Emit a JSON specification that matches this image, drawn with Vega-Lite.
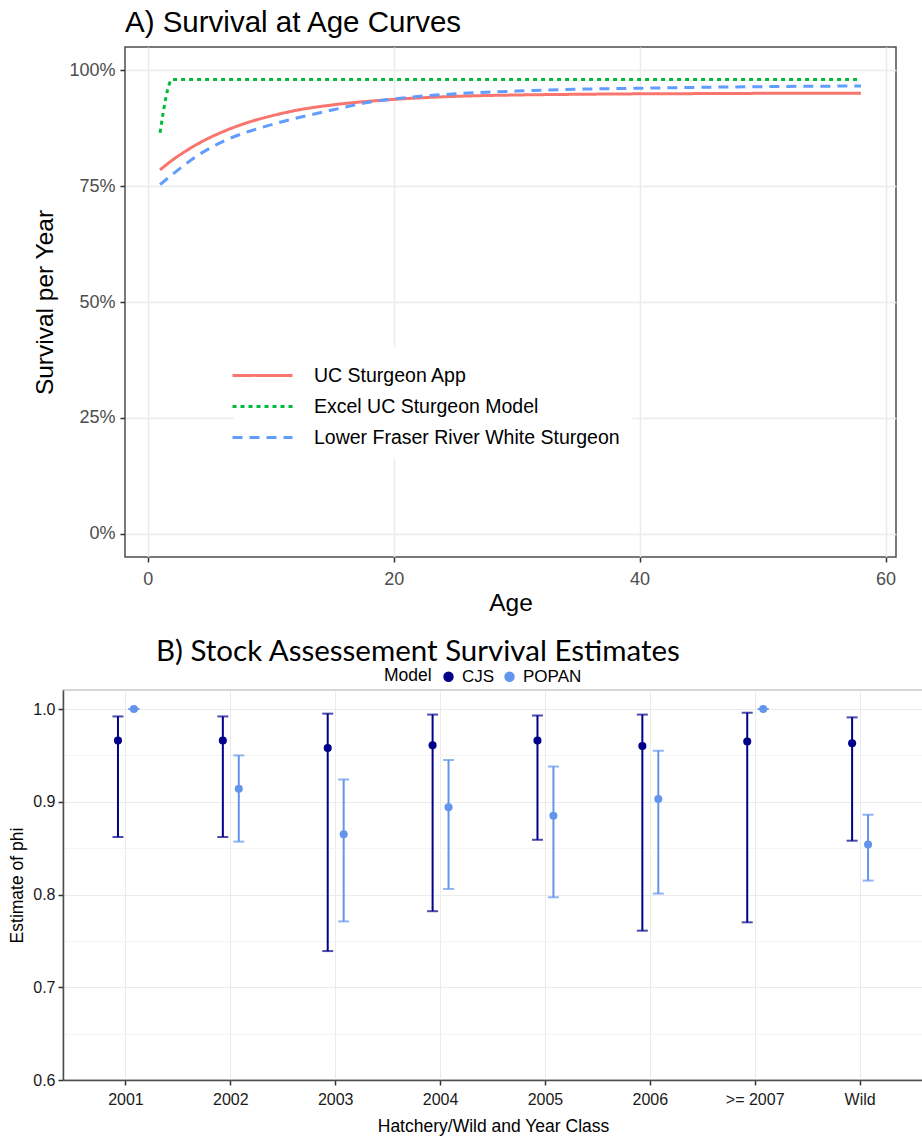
{
  "$schema": "https://vega.github.io/schema/vega-lite/v6.json",
  "background": "white",
  "padding": {"left": 7, "top": 6, "right": 0, "bottom": 0},
  "config": {"font": "Liberation Sans"},
  "spacing": 19,
  "columns": 1,
  "align": "none",
  "resolve": {
    "scale": {"color": "independent", "strokeDash": "independent", "x": "independent", "y": "independent"},
    "legend": {"color": "independent", "strokeDash": "independent"}
  },
  "concat": [
    {
      "spacing": 0,
      "resolve": {
        "scale": {"color": "independent", "strokeDash": "independent", "x": "independent", "y": "independent"},
        "legend": {"color": "independent", "strokeDash": "independent"}
      },
      "hconcat": [
        {
          "width": 25,
          "height": 10,
          "view": {"stroke": null},
          "data": {"values": []},
          "mark": "point"
        },
        {
          "width": 771,
          "height": 510,
          "view": {"stroke": "#4d4d4d", "strokeWidth": 1.5},
          "title": {"text": "A) Survival at Age Curves", "anchor": "start", "frame": "group", "fontSize": 29.5, "fontWeight": "normal", "color": "black", "offset": 9, "font": "Liberation Sans"},
          "data": {
            "values": [
              {"model": "UC Sturgeon App", "age": 1, "survival": 0.785},
              {"model": "UC Sturgeon App", "age": 2, "survival": 0.806},
              {"model": "UC Sturgeon App", "age": 3, "survival": 0.824},
              {"model": "UC Sturgeon App", "age": 4, "survival": 0.840},
              {"model": "UC Sturgeon App", "age": 5, "survival": 0.854},
              {"model": "UC Sturgeon App", "age": 6, "survival": 0.866},
              {"model": "UC Sturgeon App", "age": 8, "survival": 0.886},
              {"model": "UC Sturgeon App", "age": 10, "survival": 0.901},
              {"model": "UC Sturgeon App", "age": 12, "survival": 0.913},
              {"model": "UC Sturgeon App", "age": 15, "survival": 0.925},
              {"model": "UC Sturgeon App", "age": 18, "survival": 0.933},
              {"model": "UC Sturgeon App", "age": 20, "survival": 0.937},
              {"model": "UC Sturgeon App", "age": 25, "survival": 0.9435},
              {"model": "UC Sturgeon App", "age": 30, "survival": 0.9465},
              {"model": "UC Sturgeon App", "age": 35, "survival": 0.948},
              {"model": "UC Sturgeon App", "age": 40, "survival": 0.949},
              {"model": "UC Sturgeon App", "age": 45, "survival": 0.9495},
              {"model": "UC Sturgeon App", "age": 50, "survival": 0.950},
              {"model": "UC Sturgeon App", "age": 58, "survival": 0.950},
              {"model": "Excel UC Sturgeon Model", "age": 1, "survival": 0.865},
              {"model": "Excel UC Sturgeon Model", "age": 2, "survival": 0.980},
              {"model": "Excel UC Sturgeon Model", "age": 58, "survival": 0.980},
              {"model": "Lower Fraser River White Sturgeon", "age": 1, "survival": 0.753},
              {"model": "Lower Fraser River White Sturgeon", "age": 2, "survival": 0.775},
              {"model": "Lower Fraser River White Sturgeon", "age": 3, "survival": 0.796},
              {"model": "Lower Fraser River White Sturgeon", "age": 4, "survival": 0.815},
              {"model": "Lower Fraser River White Sturgeon", "age": 5, "survival": 0.831},
              {"model": "Lower Fraser River White Sturgeon", "age": 6, "survival": 0.845},
              {"model": "Lower Fraser River White Sturgeon", "age": 8, "survival": 0.866},
              {"model": "Lower Fraser River White Sturgeon", "age": 10, "survival": 0.882},
              {"model": "Lower Fraser River White Sturgeon", "age": 12, "survival": 0.896},
              {"model": "Lower Fraser River White Sturgeon", "age": 15, "survival": 0.914},
              {"model": "Lower Fraser River White Sturgeon", "age": 18, "survival": 0.931},
              {"model": "Lower Fraser River White Sturgeon", "age": 20, "survival": 0.938},
              {"model": "Lower Fraser River White Sturgeon", "age": 25, "survival": 0.949},
              {"model": "Lower Fraser River White Sturgeon", "age": 30, "survival": 0.955},
              {"model": "Lower Fraser River White Sturgeon", "age": 35, "survival": 0.959},
              {"model": "Lower Fraser River White Sturgeon", "age": 40, "survival": 0.961},
              {"model": "Lower Fraser River White Sturgeon", "age": 45, "survival": 0.963},
              {"model": "Lower Fraser River White Sturgeon", "age": 50, "survival": 0.9645},
              {"model": "Lower Fraser River White Sturgeon", "age": 58, "survival": 0.966}
            ]
          },
          "mark": {"type": "line", "strokeWidth": 3, "interpolate": "monotone"},
          "encoding": {
            "x": {
              "field": "age", "type": "quantitative",
              "scale": {"domain": [-1.85, 60.85], "nice": false, "zero": false},
              "axis": {"title": "Age", "values": [0, 20, 40, 60], "grid": true, "gridColor": "#EBEBEB", "gridWidth": 1.5, "domain": false, "tickColor": "#333333", "tickSize": 5, "tickWidth": 1.5, "labelFontSize": 18, "labelColor": "#4D4D4D", "labelPadding": 8, "titleFontSize": 24.5, "titleFontWeight": "normal", "titleColor": "black", "titlePadding": 3}
            },
            "y": {
              "field": "survival", "type": "quantitative",
              "scale": {"domain": [-0.05, 1.05], "nice": false, "zero": false},
              "axis": {"title": "Survival per Year", "values": [0, 0.25, 0.5, 0.75, 1], "format": ".0%", "grid": true, "gridColor": "#EBEBEB", "gridWidth": 1.5, "domain": false, "tickColor": "#333333", "tickSize": 5, "tickWidth": 1.5, "labelFontSize": 18, "labelColor": "#4D4D4D", "labelPadding": 5, "titleFontSize": 24.5, "titleFontWeight": "normal", "titleColor": "black", "titlePadding": 11}
            },
            "color": {
              "field": "model", "type": "nominal",
              "scale": {"domain": ["UC Sturgeon App", "Excel UC Sturgeon Model", "Lower Fraser River White Sturgeon"], "range": ["#F8766D", "#00BA38", "#619CFF"]},
              "legend": {"title": null, "orient": "none", "legendX": 109, "legendY": 300, "symbolType": "M-2,0H2", "symbolSize": 900, "symbolStrokeWidth": 3, "labelFontSize": 19.5, "labelColor": "black", "labelLimit": 600, "labelOffset": 35, "rowPadding": 5, "padding": 12, "fillColor": "white"}
            },
            "strokeDash": {
              "field": "model", "type": "nominal",
              "scale": {"domain": ["UC Sturgeon App", "Excel UC Sturgeon Model", "Lower Fraser River White Sturgeon"], "range": [[1, 0], [4, 4], [10, 7]]},
              "legend": {"title": null, "orient": "none", "legendX": 109, "legendY": 300, "symbolType": "M-2,0H2", "symbolSize": 900, "symbolStrokeWidth": 3, "labelFontSize": 19.5, "labelColor": "black", "labelLimit": 600, "labelOffset": 35, "rowPadding": 5, "padding": 12, "fillColor": "white"}
            }
          }
        }
      ]
    },
    {
      "spacing": 0,
      "resolve": {
        "scale": {"color": "independent", "x": "independent", "y": "independent"},
        "legend": {"color": "independent"}
      },
      "hconcat": [
        {
          "width": 1,
          "height": 10,
          "view": {"stroke": null},
          "data": {"values": []},
          "mark": "point"
        },
        {
          "width": 860,
          "height": 390,
          "view": {"stroke": "#c8c8c8", "strokeWidth": 1.5},
          "title": {"text": "B) Stock Assessement Survival Estimates", "anchor": "start", "frame": "group", "dx": 93, "font": "Lato", "fontSize": 29.5, "fontWeight": "normal", "color": "black", "offset": 1},
          "data": {
            "values": [
              {"group": "2001", "Model": "CJS", "phi": 0.966, "lower": 0.862, "upper": 0.992},
              {"group": "2001", "Model": "POPAN", "phi": 1.0, "lower": 1.0, "upper": 1.0},
              {"group": "2002", "Model": "CJS", "phi": 0.966, "lower": 0.862, "upper": 0.992},
              {"group": "2002", "Model": "POPAN", "phi": 0.914, "lower": 0.857, "upper": 0.950},
              {"group": "2003", "Model": "CJS", "phi": 0.958, "lower": 0.739, "upper": 0.995},
              {"group": "2003", "Model": "POPAN", "phi": 0.865, "lower": 0.771, "upper": 0.924},
              {"group": "2004", "Model": "CJS", "phi": 0.961, "lower": 0.782, "upper": 0.994},
              {"group": "2004", "Model": "POPAN", "phi": 0.894, "lower": 0.806, "upper": 0.945},
              {"group": "2005", "Model": "CJS", "phi": 0.966, "lower": 0.859, "upper": 0.993},
              {"group": "2005", "Model": "POPAN", "phi": 0.885, "lower": 0.797, "upper": 0.938},
              {"group": "2006", "Model": "CJS", "phi": 0.960, "lower": 0.761, "upper": 0.994},
              {"group": "2006", "Model": "POPAN", "phi": 0.903, "lower": 0.801, "upper": 0.955},
              {"group": ">= 2007", "Model": "CJS", "phi": 0.965, "lower": 0.770, "upper": 0.996},
              {"group": ">= 2007", "Model": "POPAN", "phi": 1.0, "lower": 1.0, "upper": 1.0},
              {"group": "Wild", "Model": "CJS", "phi": 0.963, "lower": 0.858, "upper": 0.991},
              {"group": "Wild", "Model": "POPAN", "phi": 0.854, "lower": 0.815, "upper": 0.886}
            ]
          },
          "encoding": {
            "x": {
              "field": "group", "type": "nominal",
              "sort": ["2001", "2002", "2003", "2004", "2005", "2006", ">= 2007", "Wild"],
              "scale": {"type": "band", "paddingInner": 0, "paddingOuter": 0.1},
              "axis": {"title": "Hatchery/Wild and Year Class", "labelAngle": 0, "grid": true, "gridColor": "#EBEBEB", "gridWidth": 1, "domainColor": "#4d4d4d", "domainWidth": 1.5, "tickColor": "#333333", "tickSize": 5, "tickWidth": 1.5, "labelFontSize": 16, "labelColor": "#1a1a1a", "labelPadding": 6, "titleFontSize": 17.5, "titleFontWeight": "normal", "titleColor": "black", "titlePadding": 10}
            },
            "xOffset": {"field": "Model", "type": "nominal", "scale": {"domain": ["CJS", "POPAN"], "range": [36.5, 68.4], "paddingInner": 0, "paddingOuter": 0}},
            "color": {
              "field": "Model", "type": "nominal",
              "scale": {"domain": ["CJS", "POPAN"], "range": ["#00008B", "#6495ED"]},
              "legend": {"title": "Model", "orient": "none", "direction": "horizontal", "titleOrient": "left", "legendX": 321, "legendY": -22, "titleFontSize": 17.5, "titleFontWeight": "normal", "titleColor": "black", "titlePadding": 8, "labelFontSize": 17, "labelColor": "black", "symbolType": "circle", "symbolSize": 80, "symbolOpacity": 1, "columnPadding": 6, "labelOffset": 5}
            }
          },
          "layer": [
            {
              "mark": {"type": "rule", "strokeWidth": 2},
              "encoding": {
                "y": {"field": "lower", "type": "quantitative", "scale": {"domain": [0.6, 1.0205], "nice": false, "zero": false},
                  "axis": {"title": "Estimate of phi", "values": [0.6, 0.65, 0.7, 0.75, 0.8, 0.85, 0.9, 0.95, 1.0], "labelExpr": "round(datum.value*100) % 10 == 0 ? format(datum.value, '.1f') : ''", "grid": true, "gridColor": {"condition": {"test": "round(datum.value*100) % 10 != 0", "value": "#F4F4F4"}, "value": "#EBEBEB"}, "tickColor": {"condition": {"test": "round(datum.value*100) % 10 != 0", "value": "transparent"}, "value": "#333333"}, "gridWidth": 1, "domainColor": "#4d4d4d", "domainWidth": 1.5, "tickSize": 5, "tickWidth": 1.5, "labelFontSize": 16, "labelColor": "#1a1a1a", "labelPadding": 3, "titleFontSize": 17.5, "titleFontWeight": "normal", "titleColor": "black", "titlePadding": 6}},
                "y2": {"field": "upper"}
              }
            },
            {
              "mark": {"type": "tick", "thickness": 2, "size": 11},
              "encoding": {"y": {"field": "lower", "type": "quantitative"}}
            },
            {
              "mark": {"type": "tick", "thickness": 2, "size": 11},
              "encoding": {"y": {"field": "upper", "type": "quantitative"}}
            },
            {
              "mark": {"type": "point", "filled": true, "size": 65, "opacity": 1},
              "encoding": {"y": {"field": "phi", "type": "quantitative"}}
            }
          ]
        }
      ]
    }
  ]
}
